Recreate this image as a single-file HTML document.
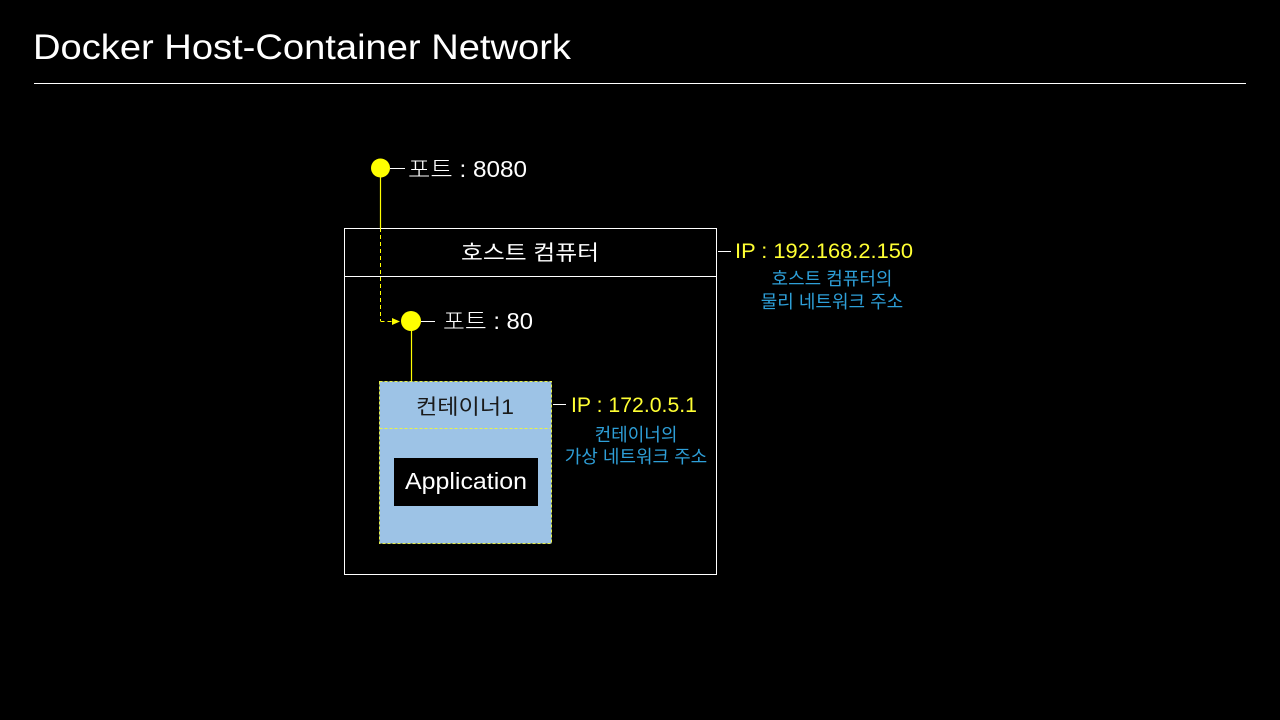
<!DOCTYPE html>
<html><head><meta charset="utf-8"><style>
html,body{margin:0;padding:0;background:#000;width:1280px;height:720px;overflow:hidden}
svg{display:block}
text{font-family:"Liberation Sans","Noto Sans CJK KR",sans-serif}
</style></head><body>
<svg width="1280" height="720" xmlns="http://www.w3.org/2000/svg">
<rect width="1280" height="720" fill="#000"/>
<text x="33" y="59" fill="#fff" font-size="35" font-weight="300" textLength="538" lengthAdjust="spacingAndGlyphs">Docker Host-Container Network</text>
<line x1="34" y1="83.5" x2="1246" y2="83.5" stroke="#fff" stroke-width="1"/>

<rect x="344.5" y="228.5" width="372" height="346" fill="none" stroke="#fff" stroke-width="1"/>
<line x1="344.5" y1="276.5" x2="716.5" y2="276.5" stroke="#fff"/>
<text x="461" y="260" fill="#fff" font-size="21" textLength="138" lengthAdjust="spacingAndGlyphs">호스트 컴퓨터</text>

<line x1="380.5" y1="168" x2="380.5" y2="228" stroke="#ffff00" stroke-width="1.2"/>
<line x1="380.5" y1="228" x2="380.5" y2="321" stroke="#ffff00" stroke-width="1" stroke-dasharray="4,3"/>
<line x1="380.5" y1="321.5" x2="392" y2="321.5" stroke="#ffff00" stroke-width="1" stroke-dasharray="4,3"/>
<polygon points="392,318 400,321.5 392,325" fill="#ffff00"/>
<circle cx="380.5" cy="168" r="9.5" fill="#ffff00"/>
<line x1="390" y1="168.5" x2="405" y2="168.5" stroke="#fff"/>
<text x="408" y="177" fill="#fff" font-size="23" font-weight="300" textLength="119" lengthAdjust="spacingAndGlyphs">포트 : 8080</text>

<line x1="411.5" y1="321" x2="411.5" y2="381" stroke="#ffff00" stroke-width="1.2"/>
<circle cx="411" cy="321" r="10" fill="#ffff00"/>
<line x1="421" y1="321.5" x2="435" y2="321.5" stroke="#fff"/>
<text x="443" y="329" fill="#fff" font-size="23" font-weight="300" textLength="90" lengthAdjust="spacingAndGlyphs">포트 : 80</text>

<rect x="379.5" y="381.5" width="172" height="162" fill="#9dc3e6" stroke="#e6f04a" stroke-width="1" stroke-dasharray="3,2"/>
<line x1="379.5" y1="428.5" x2="551.5" y2="428.5" stroke="#e6f04a" stroke-dasharray="3,2"/>
<text x="416" y="414" fill="#1a1a1a" font-size="21" textLength="98" lengthAdjust="spacingAndGlyphs">컨테이너1</text>
<rect x="394" y="458" width="144" height="48" fill="#000"/>
<text x="405" y="489" fill="#fff" font-size="23" font-weight="300" textLength="122" lengthAdjust="spacingAndGlyphs">Application</text>

<line x1="553" y1="404.5" x2="566" y2="404.5" stroke="#fff"/>
<text x="571" y="412" fill="#ffff33" font-size="21" font-weight="300" textLength="126" lengthAdjust="spacingAndGlyphs">IP : 172.0.5.1</text>
<text x="636" y="441" fill="#2e9fd8" font-size="18" text-anchor="middle">컨테이너의</text>
<text x="636" y="463" fill="#2e9fd8" font-size="18" text-anchor="middle">가상 네트워크 주소</text>

<line x1="718" y1="251.5" x2="731" y2="251.5" stroke="#fff"/>
<text x="735" y="258" fill="#ffff33" font-size="21" font-weight="300" textLength="178" lengthAdjust="spacingAndGlyphs">IP : 192.168.2.150</text>
<text x="832" y="285" fill="#2e9fd8" font-size="18" text-anchor="middle">호스트 컴퓨터의</text>
<text x="832" y="308" fill="#2e9fd8" font-size="18" text-anchor="middle">물리 네트워크 주소</text>
</svg>
</body></html>
